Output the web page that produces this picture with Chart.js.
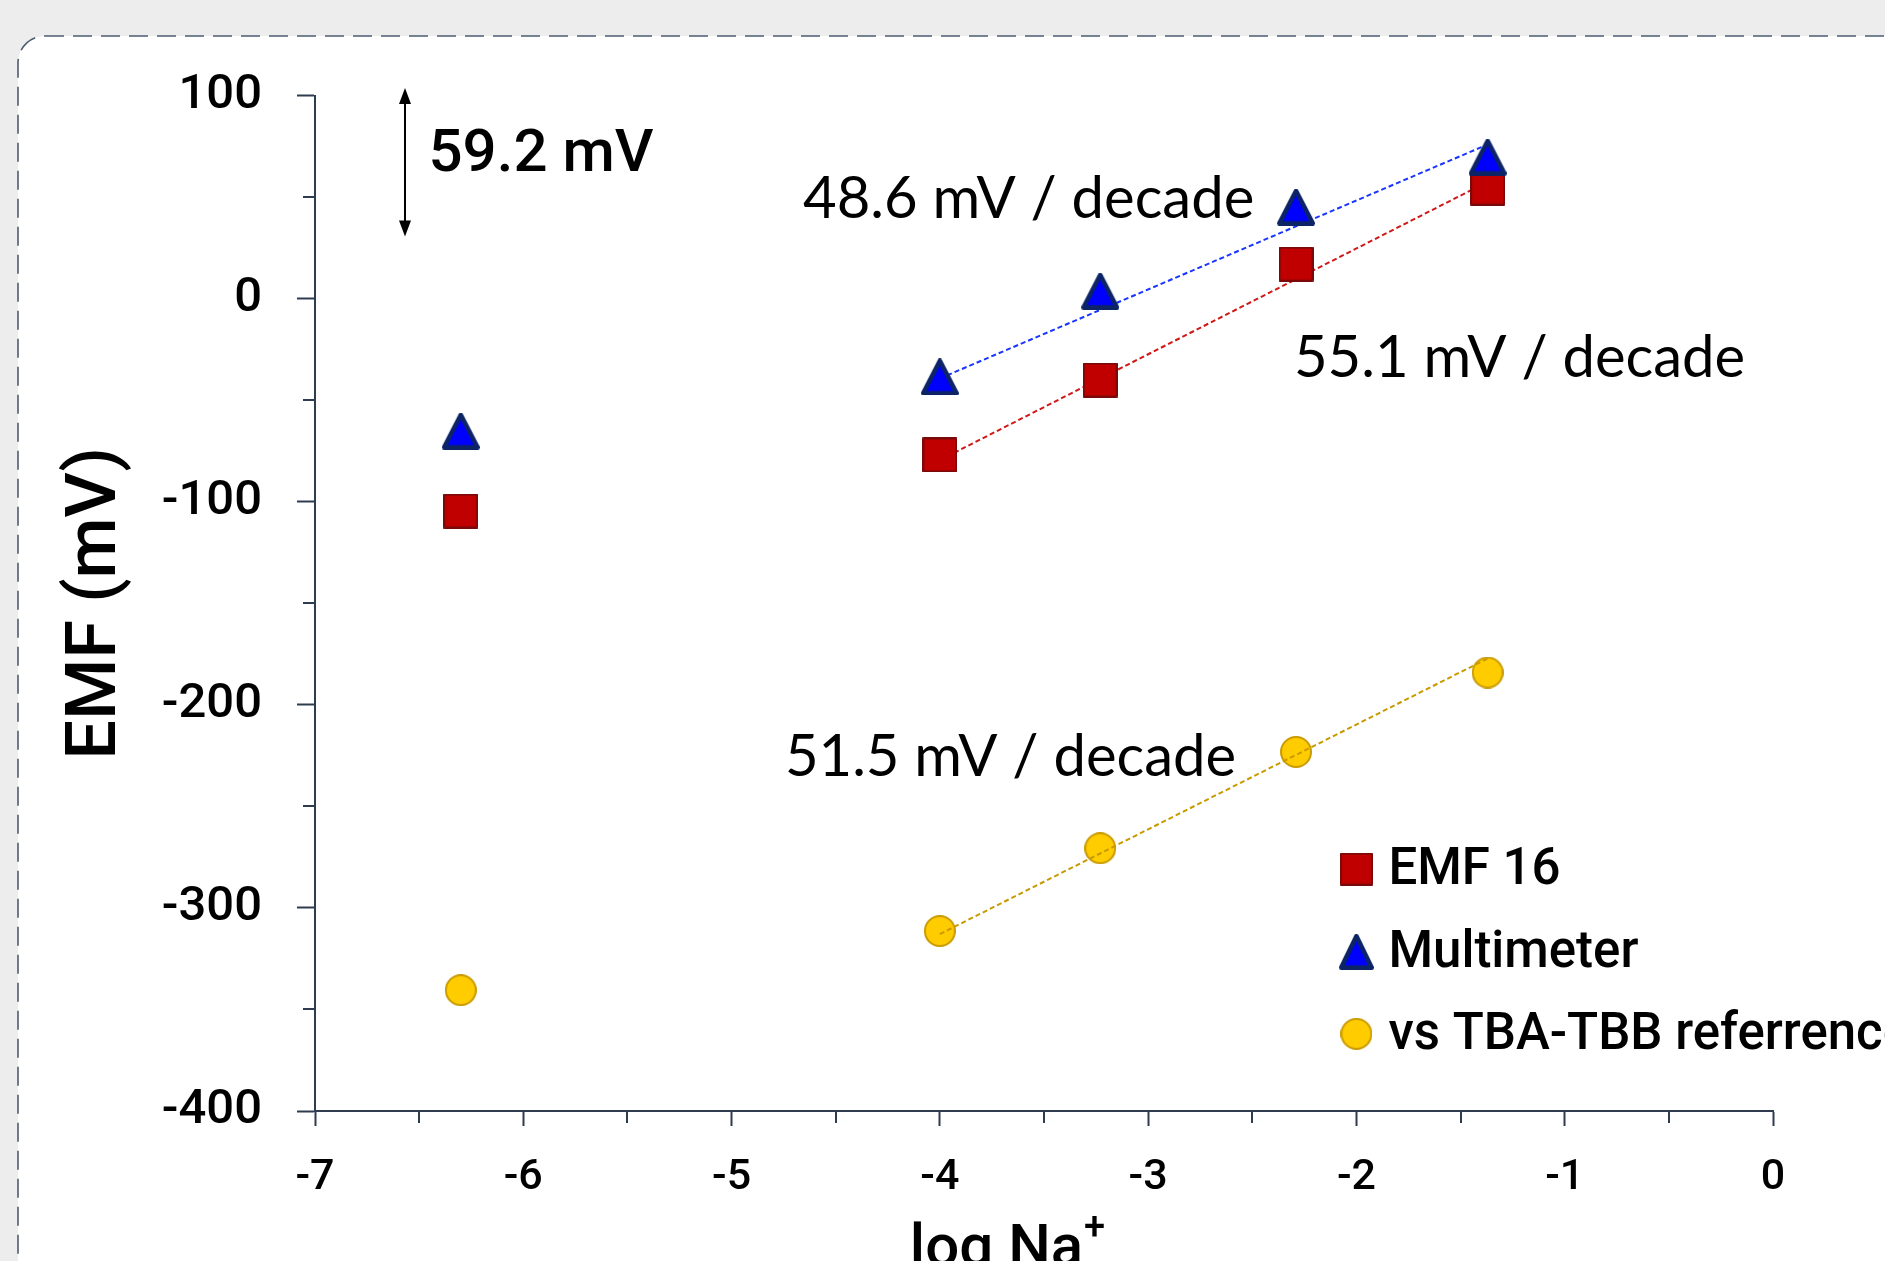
<!DOCTYPE html>
<html><head><meta charset="utf-8">
<script src="https://cdn.jsdelivr.net/npm/chart.js@4"></script>
<style>
html,body{margin:0;padding:0;width:1885px;height:1261px;overflow:hidden;background:#ededed;}
#card{position:absolute;left:0;top:0;}
#wrap{position:absolute;left:0;top:0;width:1885px;height:1261px;}
</style></head><body>
<svg id="card" width="1885" height="1261"><rect x="18" y="36" width="1950" height="1350" rx="27" ry="27" fill="#ffffff" stroke="#4e5d72" stroke-width="1.6" stroke-dasharray="19 9"/></svg>
<div id="wrap"><canvas id="c"></canvas></div>
<script>
// ---- data ----
const logNa = [-6.30, -4.00, -3.23, -2.29, -1.37];
const emf16 = [-104.6, -77.0, -40.1, 17.0, 54.4];
const multimeter = [-65.2, -38.6, 3.7, 45.1, 69.7];
const tbaRef = [-340.5, -311.4, -270.6, -223.2, -184.1];
const fitX = [-4.00, -1.37];
const multimeterFit = [-39.3, 75.9];
const emf16Fit = [-79.5, 57.5];
const tbaRefFit = [-312.9, -177.2];
const seriesLabels = ['EMF 16', 'Multimeter', 'vs TBA-TBB referrence'];
const slopeLabels = ['48.6 mV / decade', '55.1 mV / decade', '51.5 mV / decade'];
const scaleLabel = '59.2 mV';
const xTicks = [-7, -6, -5, -4, -3, -2, -1, 0];
const yTicks = [100, 0, -100, -200, -300, -400];
const xAxisTitle = 'log Na';
const yAxisTitle = 'EMF (mV)';

function marker(shape, w, h, fill, stroke, lw) {
  const c = document.createElement('canvas');
  c.width = w; c.height = h;
  const g = c.getContext('2d');
  g.fillStyle = fill; g.strokeStyle = stroke; g.lineWidth = lw; g.lineJoin = 'round';
  const p = lw / 2;
  g.beginPath();
  if (shape === 'rect') g.rect(p, p, w - lw, h - lw);
  else if (shape === 'tri') { g.moveTo(w / 2, p); g.lineTo(w - p, h - p); g.lineTo(p, h - p); g.closePath(); }
  else g.ellipse(w / 2, h / 2, w / 2 - p, h / 2 - p, 0, 0, Math.PI * 2);
  g.fill(); g.stroke();
  return c;
}
const RED = '#C00000', RED_B = '#7a0a0a';
const BLUE = '#0000FF', BLUE_B = '#0c2466';
const YEL = '#FFCC00', YEL_B = '#C99A00';
const sqImg = marker('rect', 35, 35, RED, RED_B, 2);
const triImg = marker('tri', 38, 37, BLUE, BLUE_B, 4.5);
const cirImg = marker('circ', 32, 32, YEL, YEL_B, 2);
const sqLeg = marker('rect', 33, 33, RED, RED_B, 2);
const triLeg = marker('tri', 35, 36, BLUE, BLUE_B, 4.5);
const cirLeg = marker('circ', 32, 32, YEL, YEL_B, 2);

const pts = (xs, ys) => xs.map((x, i) => ({ x: x, y: ys[i] }));
const AX = '#2f3b4f';

const overlay = {
  id: 'overlay',
  afterDraw(chart, args, o) {
    const ctx = chart.ctx, xs = chart.scales.x, ys = chart.scales.y;
    const X = v => xs.getPixelForValue(v), Y = v => ys.getPixelForValue(v);
    ctx.save();
    // minor ticks
    ctx.strokeStyle = AX; ctx.lineWidth = 2;
    for (let i = 0; i < yTicks.length - 1; i++) {
      const py = Math.round(Y((yTicks[i] + yTicks[i + 1]) / 2)) ;
      ctx.beginPath(); ctx.moveTo(ys.right - 12, py); ctx.lineTo(ys.right, py); ctx.stroke();
    }
    for (let i = 0; i < xTicks.length - 1; i++) {
      const px = Math.round(X((xTicks[i] + xTicks[i + 1]) / 2));
      ctx.beginPath(); ctx.moveTo(px, xs.top); ctx.lineTo(px, xs.top + 12); ctx.stroke();
    }
    // slope annotations
    ctx.fillStyle = '#000';
    ctx.textBaseline = 'middle'; ctx.textAlign = 'left';
    ctx.font = '58px Lato';
    o.slopes.forEach((s, i) => ctx.fillText(slopeLabels[i], X(s[0]), Y(s[1])));
    // scale bar
    ctx.font = '500 60px Roboto';
    ctx.fillText(scaleLabel, X(o.scaleText[0]), Y(o.scaleText[1]));
    const ax = Math.round(X(o.arrow[0])), ay1 = Y(o.arrow[1]), ay2 = Y(o.arrow[2]);
    ctx.strokeStyle = '#000'; ctx.lineWidth = 2;
    ctx.beginPath(); ctx.moveTo(ax, ay1 + 10); ctx.lineTo(ax, ay2 - 10); ctx.stroke();
    ctx.beginPath(); ctx.moveTo(ax, ay1); ctx.lineTo(ax - 6, ay1 + 16); ctx.lineTo(ax + 6, ay1 + 16); ctx.closePath(); ctx.fill();
    ctx.beginPath(); ctx.moveTo(ax, ay2); ctx.lineTo(ax - 6, ay2 - 16); ctx.lineTo(ax + 6, ay2 - 16); ctx.closePath(); ctx.fill();
    // legend
    const legImgs = [sqLeg, triLeg, cirLeg];
    ctx.font = '500 51px Roboto';
    const lx = X(o.legend[0]);
    o.legend[1].forEach((v, i) => {
      const ly = Y(v);
      const im = legImgs[i];
      ctx.drawImage(im, lx - im.width / 2, ly - im.height / 2);
      ctx.fillText(seriesLabels[i], lx + 32, ly + 2);
    });
    // x axis title
    ctx.font = '500 60px Roboto';
    ctx.textBaseline = 'alphabetic';
    const tx = (chart.chartArea.left + chart.chartArea.right) / 2 - 37;
    const w1 = ctx.measureText(xAxisTitle).width;
    ctx.font = '500 38px Roboto';
    const w2 = ctx.measureText('+').width;
    const startX = tx - (w1 + w2) / 2;
    ctx.font = '500 60px Roboto';
    ctx.fillText(xAxisTitle, startX, chart.height + 5);
    ctx.font = '500 38px Roboto';
    ctx.fillText('+', startX + w1 + 1, chart.height - 22);
    ctx.restore();
  }
};

new Chart(document.getElementById('c'), {
  type: 'scatter',
  data: {
    datasets: [
      { label: 'tba fit', data: pts(fitX, tbaRefFit), showLine: true, borderColor: '#C99A00', borderWidth: 2, borderDash: [5, 3], pointRadius: 0, fill: false },
      { label: seriesLabels[1], data: pts(logNa, multimeter), pointStyle: triImg, pointRadius: 18 },
      { label: seriesLabels[0], data: pts(logNa, emf16), pointStyle: sqImg, pointRadius: 18 },
      { label: seriesLabels[2], data: pts(logNa, tbaRef), pointStyle: cirImg, pointRadius: 16 },
      { label: 'multimeter fit', data: pts(fitX, multimeterFit), showLine: true, borderColor: '#1a35ff', borderWidth: 2, borderDash: [5, 3], pointRadius: 0, fill: false },
      { label: 'emf16 fit', data: pts(fitX, emf16Fit), showLine: true, borderColor: '#d01818', borderWidth: 2, borderDash: [5, 3], pointRadius: 0, fill: false }
    ]
  },
  options: {
    responsive: true, maintainAspectRatio: false, animation: false,
    events: [],
    layout: { padding: { top: 95.5, right: 112, left: 0, bottom: 0 } },
    plugins: {
      legend: { display: false }, tooltip: { enabled: false },
      overlay: {
        slopes: [[-4.657, 49.0], [-2.30, -29.2], [-4.744, -226.0]],
        scaleText: [-6.455, 70.0],
        arrow: [-6.568, 103.7, 30.6],
        legend: [-2.0, [-280.9, -321.6, -362.0]]
      }
    },
    scales: {
      x: {
        type: 'linear', min: -7, max: 0,
        afterBuildTicks: s => { s.ticks = xTicks.map(v => ({ value: v })); },
        ticks: { font: { family: 'Roboto', size: 43, weight: '500' }, color: '#000', padding: 26, maxRotation: 0, autoSkip: false, callback: v => String(v) },
        grid: { drawOnChartArea: false, tickLength: 15, tickColor: AX, tickWidth: 2 },
        border: { display: true, color: AX, width: 2 },
        afterFit: s => { s.height = 150; }
      },
      y: {
        type: 'linear', min: -400, max: 100,
        afterBuildTicks: s => { s.ticks = yTicks.map(v => ({ value: v })); },
        ticks: { font: { family: 'Roboto', size: 49, weight: '500' }, color: '#000', padding: 35, autoSkip: false, callback: v => String(v) },
        grid: { drawOnChartArea: false, tickLength: 18, tickColor: AX, tickWidth: 2 },
        border: { display: true, color: AX, width: 2 },
        title: { display: true, text: yAxisTitle, color: '#000', font: { family: 'Roboto', size: 70, weight: '500' }, padding: { top: 55, bottom: 0 } },
        afterFit: s => { s.width = 315; }
      }
    }
  },
  plugins: [overlay]
});
</script>
</body></html>
